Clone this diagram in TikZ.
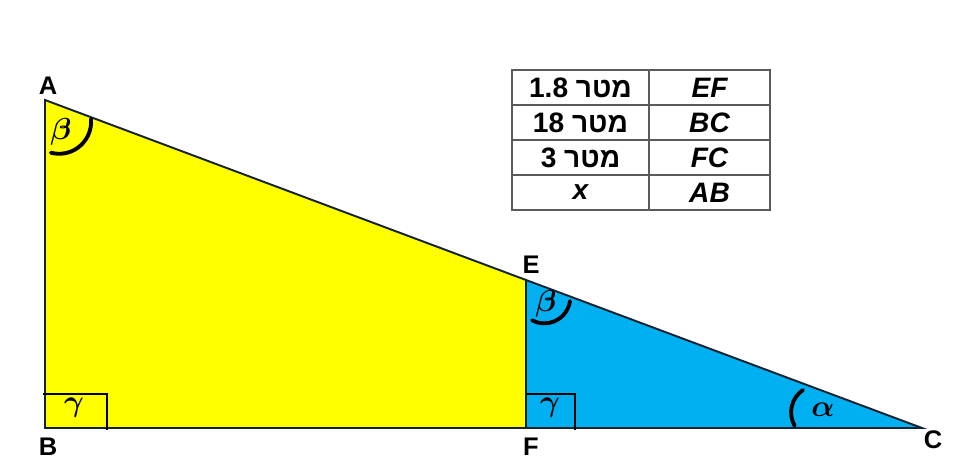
\documentclass[tikz,border=0pt]{standalone}
\usepackage{amsmath}
\usepackage{fontspec}
\setmainfont{Liberation Sans}
\newfontfamily\hebfont[Script=Hebrew]{Liberation Sans}
\TeXXeTstate=1
\usepackage{xcolor}
\usetikzlibrary{positioning}

\begin{document}
\begin{tikzpicture}[x=0.02cm, y=-0.02cm,
		vertex/.style={font=\fontsize{14.5}{16}\selectfont\bfseries, inner sep=0pt},
		cell/.style={draw={rgb,255:red,90;green,90;blue,90}, line width=0.6pt, inner sep=0pt, minimum height=0.7cm, font=\fontsize{16}{18}\selectfont\bfseries},
		anglemark/.style={line width=2.2pt, line cap=round},
		rightmark/.style={line width=1.6pt},
		greek/.style={font=\fontsize{17.5}{19}\selectfont, inner sep=0pt}]
			\useasboundingbox (0,0) rectangle (968,472);
			\definecolor{EDGE}{RGB}{20, 35, 50}
			\definecolor{YELLOW}{RGB}{255, 255, 0}
			\definecolor{BLUE}{RGB}{0, 176, 240}
			% vertices
			\coordinate (A) at (45, 100);
			\coordinate (B) at (45, 428);
			\coordinate (F) at (526, 428);
			\coordinate (E) at (526, 280);
			\coordinate (C) at (922, 428);
			% the two triangles
			\filldraw[fill=YELLOW, draw=EDGE, line width=1.1pt] (A) -- (B) -- (F) -- (E) -- cycle;
			\filldraw[fill=BLUE, draw=EDGE, line width=1.1pt] (E) -- (F) -- (C) -- cycle;
			% right angles
			\draw[rightmark] (43, 394) -- (107, 394) -- (107, 430);
			\draw[rightmark] (526, 394) -- (575, 394) -- (575, 430);
			\node[greek] (gammaB) at (74, 408) {$\boldsymbol{\gamma}$};
			\node[greek] (gammaF) at (550, 408) {$\boldsymbol{\gamma}$};
			% angle arcs
			\draw[anglemark] (91, 119) arc[start angle=-5, end angle=105, radius=32];
			\draw[anglemark] (570, 301) arc[start angle=8, end angle=118, radius=26];
			\draw[anglemark] (803, 390) arc[start angle=236, end angle=150, radius=27];
			\node[greek] (betaA) at (61, 132) {$\boldsymbol{\beta}$};
			\node[greek] (betaE) at (546, 304) {$\boldsymbol{\beta}$};
			\node[greek] (alphaC) at (823, 410) {$\boldsymbol{\alpha}$};
			% vertex labels
			\node[vertex] (labA) at (48, 86) {A};
			\node[vertex] (labB) at (48, 447) {B};
			\node[vertex] (labE) at (531, 265) {E};
			\node[vertex] (labF) at (531, 447) {F};
			\node[vertex] (labC) at (933, 440) {C};
			% data table
			\node[cell, minimum width=2.74cm] (ef) at (580.5, 87.5) {\hebfont\beginR מטר \beginL 1.8\endL\endR};
			\node[cell, minimum width=2.42cm] (EF) at (709.5, 87.5) {\itshape EF};
			\node[cell, minimum width=2.74cm] (bc) at (580.5, 122.5) {\hebfont\beginR מטר \beginL 18\endL\endR};
			\node[cell, minimum width=2.42cm] (BC) at (709.5, 122.5) {\itshape BC};
			\node[cell, minimum width=2.74cm] (fc) at (580.5, 157.5) {\hebfont\beginR מטר \beginL 3\endL\endR};
			\node[cell, minimum width=2.42cm] (FC) at (709.5, 157.5) {\itshape FC};
			\node[cell, minimum width=2.74cm] (ab) at (580.5, 192.5) {\itshape x};
			\node[cell, minimum width=2.42cm] (AB) at (709.5, 192.5) {\itshape AB};
		\end{tikzpicture}
\end{document}
